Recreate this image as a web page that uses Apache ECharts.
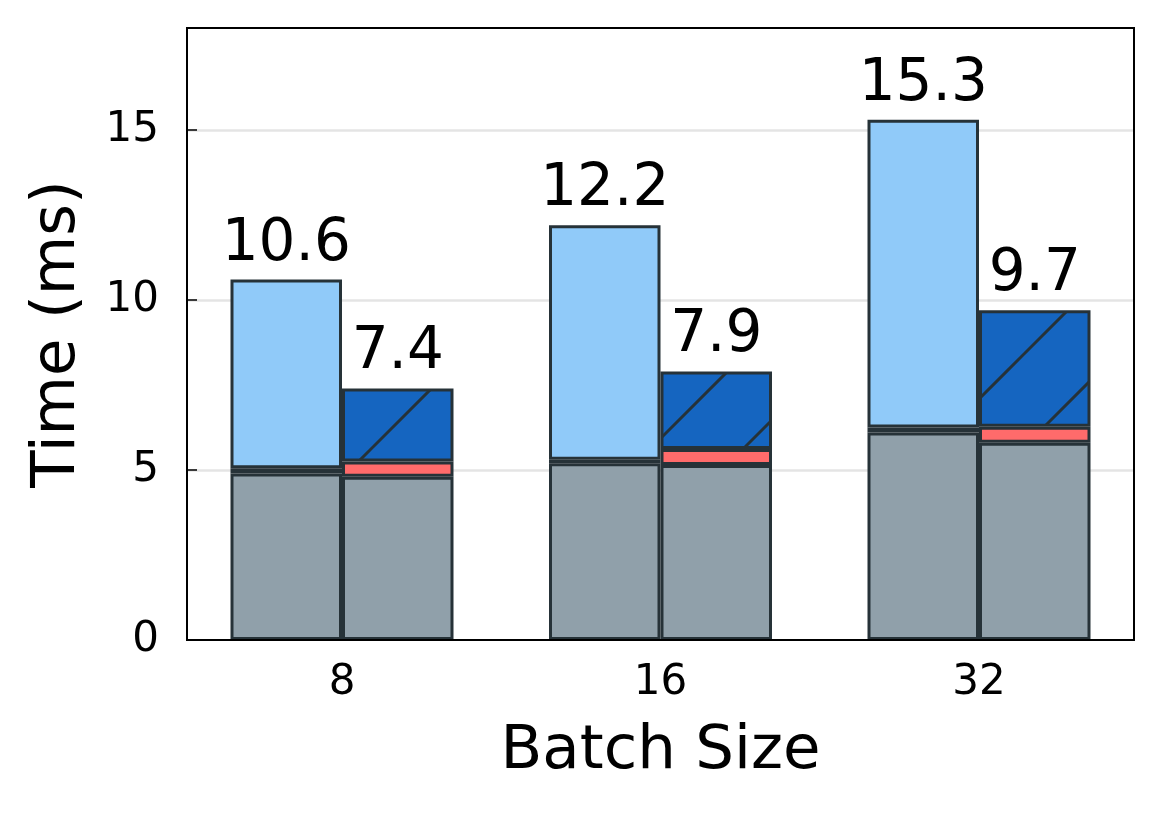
<!DOCTYPE html>
<html>
<head>
<meta charset="utf-8">
<script src="https://cdn.jsdelivr.net/npm/echarts@6/dist/echarts.min.js"></script>
<style>
html,body{margin:0;padding:0;background:#fff;}
#chart{width:1162px;height:814px;}
</style>
</head>
<body>
<div id="chart"></div>
<script>
// ---- data ----
const categories = ['8', '16', '32'];
const yTicks = [0, 5, 10, 15];
// left bar of each group
const leftBase = [4.9, 5.2, 6.1];      // grey
const leftThin = [0.15, 0.1, 0.15];    // dark thin segment
const leftTotal = [10.6, 12.2, 15.3];  // labelled totals
// right bar of each group
const rightBase = [4.8, 5.15, 5.8];    // grey
const rightRed = [0.45, 0.47, 0.47];   // red
const rightTotal = [7.4, 7.9, 9.7];    // labelled totals

const leftTop = leftTotal.map((t, i) => +(t - leftBase[i] - leftThin[i]).toFixed(3));
const rightTop = rightTotal.map((t, i) => +(t - rightBase[i] - rightRed[i]).toFixed(3));

// ---- style ----
const FONT = 'DejaVu Sans';
const EDGE = '#263238';
const GREY = '#90A0AA';
const LIGHT = '#90CAF9';
const DARK = '#1565C0';
const RED = '#FF6B6B';

function hatch() {
  const s = 93, off = 76;
  const c = document.createElement('canvas');
  c.width = s; c.height = s;
  const g = c.getContext('2d');
  g.fillStyle = DARK;
  g.fillRect(0, 0, s, s);
  g.strokeStyle = EDGE;
  g.lineWidth = 3;
  g.beginPath();
  for (const k of [off - s, off, off + s]) {
    g.moveTo(-10, k + 10);
    g.lineTo(k + 10, -10);
  }
  g.stroke();
  return { image: c, repeat: 'repeat' };
}

const chart = echarts.init(document.getElementById('chart'), null, { renderer: 'canvas' });
const barW = 111.5;
function seg(name, stack, data, color, label) {
  const s = {
    name, type: 'bar', stack, data, xAxisIndex: 1, yAxisIndex: 1,
    barWidth: barW, barGap: '0%',
    itemStyle: { color, borderColor: EDGE, borderWidth: 3 },
    emphasis: { disabled: true },
    animation: false
  };
  if (label) {
    s.label = {
      show: true, position: 'top', distance: 6,
      fontFamily: FONT, fontSize: 58, color: '#000',
      formatter: p => label[p.dataIndex].toFixed(1)
    };
  }
  return s;
}

chart.setOption({
  animation: false,
  grid: [
    { left: 187, right: 28, top: 28, bottom: 174, show: true, borderColor: '#000', borderWidth: 2, backgroundColor: 'transparent', z: 5 },
    { left: 182.75, right: 23.75, top: 28, bottom: 174 }
  ],
  xAxis: [
    { gridIndex: 0, type: 'category', data: categories, axisLine: { lineStyle: { color: '#000', width: 2 } }, axisTick: { show: false }, axisLabel: { show: false } },
    { gridIndex: 1, type: 'category', data: categories,
      axisLine: { show: false }, axisTick: { show: false },
      axisLabel: { fontFamily: FONT, fontSize: 42, color: '#000', margin: 22 },
      name: 'Batch Size', nameLocation: 'middle', nameGap: 82,
      nameTextStyle: { fontFamily: FONT, fontSize: 61, color: '#000' } }
  ],
  yAxis: [
    { gridIndex: 0, type: 'value', min: 0, max: 18, interval: 5,
      axisLine: { show: true, lineStyle: { color: '#000', width: 2 } },
      axisTick: { show: true, inside: true, length: 10, lineStyle: { color: '#000', width: 1.5 } },
      axisLabel: { fontFamily: FONT, fontSize: 42, color: '#000', margin: 28, showMaxLabel: false,
        formatter: v => yTicks.includes(v) ? String(v) : '' },
      splitLine: { show: true, showMaxLine: false, showMinLine: false, lineStyle: { color: '#e4e4e4', width: 2.5 } },
      name: 'Time (ms)', nameLocation: 'middle', nameGap: 98,
      nameTextStyle: { fontFamily: FONT, fontSize: 61, color: '#000' } },
    { gridIndex: 1, type: 'value', min: 0, max: 18, show: false, splitLine: { show: false } }
  ],
  series: [
    seg('base-l', 'L', leftBase, GREY),
    seg('thin-l', 'L', leftThin, EDGE),
    seg('top-l', 'L', leftTop, LIGHT, leftTotal),
    seg('base-r', 'R', rightBase, GREY),
    seg('red-r', 'R', rightRed, RED),
    seg('top-r', 'R', rightTop, hatch(), rightTotal)
  ]
});
</script>
</body>
</html>
